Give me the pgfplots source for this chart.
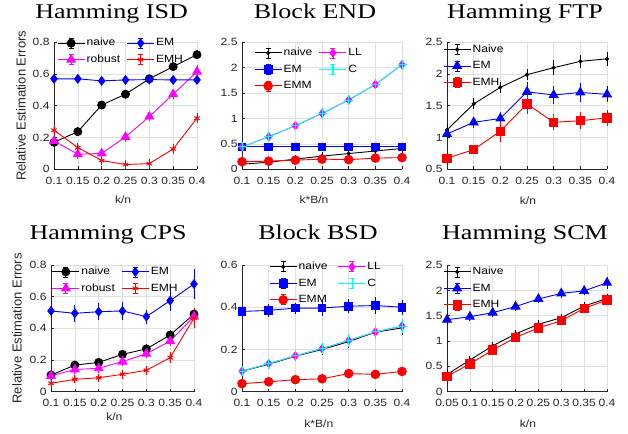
\documentclass[border=0pt]{standalone}
\usepackage{pgfplots}
\pgfplotsset{compat=1.18}
\usepackage{fontspec}
\newfontfamily\sansf{Liberation Sans}[FakeStretch=1.15]
\newfontfamily\sansplain{Liberation Sans}
\newfontfamily\serift{Liberation Serif}[FakeStretch=1.24]
\newcommand{\tk}{\sansf\fontsize{10.5}{12}\selectfont}
\newcommand{\ttl}{\serift\fontsize{21}{24}\selectfont}
\newcommand{\ylab}{\sansplain\fontsize{13}{15}\selectfont}
\definecolor{axgray}{rgb}{0.15,0.15,0.15}
\definecolor{grd}{rgb}{0.88,0.88,0.88}
\definecolor{mmag}{rgb}{1,0,1}
\definecolor{mcyan}{rgb}{0,1,1}
\definecolor{mblue}{rgb}{0,0,1}
\definecolor{mred}{rgb}{1,0,0}

\pgfplotsset{
  mplot/.style={
    scale only axis, anchor=south west, clip=false,
    axis x line*=bottom, axis y line*=left,
    every outer x axis line/.append style={-},
    every outer y axis line/.append style={-},
    axis line style={axgray, line width=0.6pt, -},
    tick align=inside, major tick length=3pt,
    tick style={axgray, line width=0.6pt},
    grid=major, major grid style={grd, line width=0.6pt},
    ticklabel style={font=\tk, text=axgray},
    xticklabel style={yshift=-4pt},
    yticklabel style={xshift=-1pt},
    every axis title/.style={font=\ttl, anchor=base},
    xlabel style={font=\tk, text=axgray, anchor=center},
    ylabel style={font=\ylab, text=axgray, anchor=center},
    legend style={draw=none, fill=none, font=\tk, text=black, inner sep=0pt,
      row sep=5pt, anchor=north west,
      nodes={inner xsep=1.5pt, inner ysep=1pt, text height=7.5pt, text depth=2pt}},
    legend cell align=left,
    legend image code/.code={
      \draw[mark=none, solid, line width=0.8pt] (13.5pt,-5pt) -- (13.5pt,5pt)
        (11pt,-5pt) -- (16pt,-5pt) (11pt,5pt) -- (16pt,5pt);
      \draw[mark repeat=2,mark phase=2] plot coordinates {(0pt,0pt) (13.5pt,0pt) (27pt,0pt)};
    },
    error bars/y dir=both, error bars/y explicit,
    error bars/error mark=-,
    error bars/error bar style={line width=0.8pt, solid},
    error bars/error mark options={mark size=3pt, line width=0.8pt, solid},
  },
  pk/.style={color=black, line width=0.9pt, mark=*, mark size=4pt},
  pbd/.style={color=mblue, line width=0.9pt, mark=diamond*, mark size=4.3pt},
  pmt/.style={color=mmag, line width=0.9pt, mark=triangle*, mark size=4.9pt},
  pra/.style={color=mred, line width=0.9pt, mark=asterisk, mark size=3.2pt},
  pkd/.style={color=black, line width=0.9pt, mark=*, mark size=1.6pt},
  pbs/.style={color=mblue, line width=0.9pt, mark=square*, mark size=3.8pt},
  prc/.style={color=mred, line width=0.9pt, mark=*, mark size=4.3pt},
  pmd/.style={color=mmag, line width=0.9pt, mark=diamond*, mark size=4pt},
  pcp/.style={color=mcyan, line width=0.9pt, mark=+, mark size=4.5pt},
  pbt/.style={color=mblue, line width=0.9pt, mark=triangle*, mark size=5pt},
  prs/.style={color=mred, line width=0.9pt, mark=square*, mark size=4.2pt},
}

\begin{document}
\begin{tikzpicture}
\path[use as bounding box] (0,0) rectangle (628pt,433pt);

% Hamming ISD
\begin{axis}[mplot, at={(54pt,263.7pt)}, width=143pt, height=127pt,
  xmin=0.1, xmax=0.4, ymin=0, ymax=0.8,
  xtick={0.1,0.15,0.2,0.25,0.3,0.35,0.4}, xticklabels={0.1,0.15,0.2,0.25,0.3,0.35,0.4},
  ytick={0,0.2,0.4,0.6,0.8}, yticklabels={0,0.2,0.4,0.6,0.8},
  title={Hamming ISD}, title style={at={(axis description cs:0.403,1.189)}},
  xlabel={k/n}, xlabel style={at={(axis description cs:0.483,-0.242)}},
  ylabel={Relative Estimation Errors}, ylabel style={at={(axis description cs:-0.231,0.5)}},
  legend columns=2,
  legend style={at={(0.021,1.040)}, /tikz/every even column/.append style={column sep=5pt}},
]
\addplot[pk, forget plot] coordinates {(0.1,0.17)+-(0,0.008) (0.15,0.237)+-(0,0.008) (0.2,0.405)+-(0,0.008) (0.25,0.473)+-(0,0.008) (0.3,0.57)+-(0,0.008) (0.35,0.647)+-(0,0.008) (0.4,0.722)+-(0,0.008)};
\addplot[pmt, forget plot] coordinates {(0.1,0.178)+-(0,0.01) (0.15,0.095)+-(0,0.01) (0.2,0.10)+-(0,0.01) (0.25,0.204)+-(0,0.01) (0.3,0.332)+-(0,0.01) (0.35,0.473)+-(0,0.01) (0.4,0.615)+-(0,0.02)};
\addplot[pbd, forget plot] coordinates {(0.1,0.57)+-(0,0.008) (0.15,0.57)+-(0,0.008) (0.2,0.557)+-(0,0.008) (0.25,0.563)+-(0,0.008) (0.3,0.565)+-(0,0.008) (0.35,0.563)+-(0,0.008) (0.4,0.563)+-(0,0.008)};
\addplot[pra, forget plot] coordinates {(0.1,0.246)+-(0,0.01) (0.15,0.137)+-(0,0.01) (0.2,0.055)+-(0,0.01) (0.25,0.03)+-(0,0.008) (0.3,0.036)+-(0,0.008) (0.35,0.128)+-(0,0.01) (0.4,0.322)+-(0,0.012)};
\addlegendimage{pk}\addlegendentry{naive}
\addlegendimage{pbd}\addlegendentry{EM}
\addlegendimage{pmt}\addlegendentry{robust}
\addlegendimage{pra}\addlegendentry{EMH}
\end{axis}

% Block END
\begin{axis}[mplot, at={(242pt,263.7pt)}, width=160pt, height=127pt,
  xmin=0.1, xmax=0.4, ymin=0, ymax=2.5,
  xtick={0.1,0.15,0.2,0.25,0.3,0.35,0.4}, xticklabels={0.1,0.15,0.2,0.25,0.3,0.35,0.4},
  ytick={0,0.5,1,1.5,2,2.5}, yticklabels={0,0.5,1,1.5,2,2.5},
  title={Block END}, title style={at={(axis description cs:0.456,1.189)}},
  xlabel={k*B/n}, xlabel style={at={(axis description cs:0.45,-0.242)}},
  legend columns=2,
  legend style={at={(0.075,0.963)}, /tikz/every even column/.append style={column sep=5pt}},
]
\addplot[pkd, forget plot] coordinates {(0.1,0.10)+-(0,0.02) (0.15,0.14)+-(0,0.02) (0.2,0.20)+-(0,0.02) (0.25,0.26)+-(0,0.03) (0.3,0.31)+-(0,0.03) (0.35,0.36)+-(0,0.03) (0.4,0.41)+-(0,0.03)};
\addplot[pbs, forget plot] coordinates {(0.1,0.44)+-(0,0.01) (0.15,0.44)+-(0,0.01) (0.2,0.44)+-(0,0.01) (0.25,0.44)+-(0,0.01) (0.3,0.44)+-(0,0.01) (0.35,0.44)+-(0,0.01) (0.4,0.44)+-(0,0.01)};
\addplot[prc, forget plot] coordinates {(0.1,0.15)+-(0,0.01) (0.15,0.16)+-(0,0.01) (0.2,0.18)+-(0,0.01) (0.25,0.20)+-(0,0.01) (0.3,0.19)+-(0,0.01) (0.35,0.22)+-(0,0.01) (0.4,0.23)+-(0,0.01)};
\addplot[pmd, forget plot] coordinates {(0.1,0.44)+-(0,0.03) (0.15,0.64)+-(0,0.03) (0.2,0.86)+-(0,0.03) (0.25,1.10)+-(0,0.04) (0.3,1.365)+-(0,0.04) (0.35,1.67)+-(0,0.04) (0.4,2.06)+-(0,0.04)};
\addplot[pcp, forget plot] coordinates {(0.1,0.44)+-(0,0.03) (0.15,0.64)+-(0,0.03) (0.2,0.86)+-(0,0.03) (0.25,1.10)+-(0,0.04) (0.3,1.365)+-(0,0.04) (0.35,1.67)+-(0,0.04) (0.4,2.06)+-(0,0.04)};
\addlegendimage{pkd}\addlegendentry{naive}
\addlegendimage{pmd}\addlegendentry{LL}
\addlegendimage{pbs}\addlegendentry{EM}
\addlegendimage{pcp}\addlegendentry{C}
\addlegendimage{prc}\addlegendentry{EMM}
\end{axis}

% Hamming FTP
\begin{axis}[mplot, at={(447pt,263.7pt)}, width=160pt, height=127pt,
  xmin=0.1, xmax=0.4, ymin=0.5, ymax=2.5,
  xtick={0.1,0.15,0.2,0.25,0.3,0.35,0.4}, xticklabels={0.1,0.15,0.2,0.25,0.3,0.35,0.4},
  ytick={0.5,1,1.5,2,2.5}, yticklabels={0.5,1,1.5,2,2.5},
  title={Hamming FTP}, title style={at={(axis description cs:0.4875,1.189)}},
  xlabel={k/n}, xlabel style={at={(axis description cs:0.506,-0.25)}},
  legend columns=1,
  legend style={at={(-0.025,0.990)}},
]
\addplot[pkd, forget plot] coordinates {(0.1,1.12)+-(0,0.04) (0.15,1.53)+-(0,0.04) (0.2,1.79)+-(0,0.04) (0.25,1.99)+-(0,0.04) (0.3,2.10)+-(0,0.07) (0.35,2.20)+-(0,0.06) (0.4,2.24)+-(0,0.06)};
\addplot[pbt, forget plot] coordinates {(0.1,1.056)+-(0,0.03) (0.15,1.24)+-(0,0.04) (0.2,1.30)+-(0,0.05) (0.25,1.72)+-(0,0.10) (0.3,1.67)+-(0,0.10) (0.35,1.71)+-(0,0.10) (0.4,1.68)+-(0,0.08)};
\addplot[prs, forget plot] coordinates {(0.1,0.675)+-(0,0.02) (0.15,0.81)+-(0,0.02) (0.2,1.10)+-(0,0.12) (0.25,1.53)+-(0,0.11) (0.3,1.24)+-(0,0.08) (0.35,1.265)+-(0,0.09) (0.4,1.31)+-(0,0.08)};
\addlegendimage{pkd}\addlegendentry{Naive}
\addlegendimage{pbt}\addlegendentry{EM}
\addlegendimage{prs}\addlegendentry{EMH}
\end{axis}

% Hamming CPS
\begin{axis}[mplot, at={(51pt,41.3pt)}, width=143pt, height=126.7pt,
  xmin=0.1, xmax=0.4, ymin=0, ymax=0.8,
  xtick={0.1,0.15,0.2,0.25,0.3,0.35,0.4}, xticklabels={0.1,0.15,0.2,0.25,0.3,0.35,0.4},
  ytick={0,0.2,0.4,0.6,0.8}, yticklabels={0,0.2,0.4,0.6,0.8},
  title={Hamming CPS}, title style={at={(axis description cs:0.399,1.2)}},
  xlabel={k/n}, xlabel style={at={(axis description cs:0.443,-0.197)}},
  ylabel={Relative Estimation Errors}, ylabel style={at={(axis description cs:-0.238,0.5)}},
  legend columns=2,
  legend style={at={(0.005,0.9925)}, /tikz/every even column/.append style={column sep=5pt}},
]
\addplot[pk, forget plot] coordinates {(0.1,0.105)+-(0,0.008) (0.15,0.168)+-(0,0.008) (0.2,0.185)+-(0,0.008) (0.25,0.236)+-(0,0.01) (0.3,0.27)+-(0,0.01) (0.35,0.358)+-(0,0.012) (0.4,0.49)+-(0,0.02)};
\addplot[pmt, forget plot] coordinates {(0.1,0.10)+-(0,0.01) (0.15,0.14)+-(0,0.01) (0.2,0.148)+-(0,0.01) (0.25,0.19)+-(0,0.01) (0.3,0.24)+-(0,0.01) (0.35,0.32)+-(0,0.015) (0.4,0.475)+-(0,0.03)};
\addplot[pbd, forget plot] coordinates {(0.1,0.51)+-(0,0.065) (0.15,0.495)+-(0,0.035) (0.2,0.505)+-(0,0.035) (0.25,0.51)+-(0,0.04) (0.3,0.474)+-(0,0.025) (0.35,0.575)+-(0,0.045) (0.4,0.68)+-(0,0.075)};
\addplot[pra, forget plot] coordinates {(0.1,0.053)+-(0,0.006) (0.15,0.078)+-(0,0.006) (0.2,0.088)+-(0,0.006) (0.25,0.11)+-(0,0.008) (0.3,0.135)+-(0,0.01) (0.35,0.215)+-(0,0.015) (0.4,0.465)+-(0,0.045)};
\addlegendimage{pk}\addlegendentry{naive}
\addlegendimage{pbd}\addlegendentry{EM}
\addlegendimage{pmt}\addlegendentry{robust}
\addlegendimage{pra}\addlegendentry{EMH}
\end{axis}

% Block BSD
\begin{axis}[mplot, at={(242pt,41.3pt)}, width=160pt, height=126.7pt,
  xmin=0.1, xmax=0.4, ymin=0, ymax=0.6,
  xtick={0.1,0.15,0.2,0.25,0.3,0.35,0.4}, xticklabels={0.1,0.15,0.2,0.25,0.3,0.35,0.4},
  ytick={0,0.2,0.4,0.6}, yticklabels={0,0.2,0.4,0.6},
  title={Block BSD}, title style={at={(axis description cs:0.475,1.2)}},
  xlabel={k*B/n}, xlabel style={at={(axis description cs:0.48,-0.255)}},
  legend columns=2,
  legend style={at={(0.169,1.032)}, /tikz/every even column/.append style={column sep=9pt}},
]
\addplot[pkd, forget plot] coordinates {(0.1,0.097)+-(0,0.01) (0.15,0.13)+-(0,0.01) (0.2,0.168)+-(0,0.01) (0.25,0.20)+-(0,0.012) (0.3,0.237)+-(0,0.015) (0.35,0.282)+-(0,0.02) (0.4,0.302)+-(0,0.02)};
\addplot[pbs, forget plot] coordinates {(0.1,0.38)+-(0,0.012) (0.15,0.385)+-(0,0.015) (0.2,0.396)+-(0,0.012) (0.25,0.396)+-(0,0.025) (0.3,0.405)+-(0,0.018) (0.35,0.408)+-(0,0.025) (0.4,0.40)+-(0,0.022)};
\addplot[prc, forget plot] coordinates {(0.1,0.038)+-(0,0.003) (0.15,0.047)+-(0,0.003) (0.2,0.057)+-(0,0.003) (0.25,0.061)+-(0,0.003) (0.3,0.086)+-(0,0.003) (0.35,0.082)+-(0,0.003) (0.4,0.096)+-(0,0.003)};
\addplot[pmd, forget plot] coordinates {(0.1,0.097)+-(0,0.01) (0.15,0.133)+-(0,0.01) (0.2,0.17)+-(0,0.012) (0.25,0.204)+-(0,0.012) (0.3,0.243)+-(0,0.015) (0.35,0.283)+-(0,0.02) (0.4,0.311)+-(0,0.02)};
\addplot[pcp, forget plot] coordinates {(0.1,0.097)+-(0,0.01) (0.15,0.133)+-(0,0.01) (0.2,0.17)+-(0,0.012) (0.25,0.204)+-(0,0.012) (0.3,0.243)+-(0,0.015) (0.35,0.283)+-(0,0.02) (0.4,0.311)+-(0,0.02)};
\addlegendimage{pkd}\addlegendentry{naive}
\addlegendimage{pmd}\addlegendentry{LL}
\addlegendimage{pbs}\addlegendentry{EM}
\addlegendimage{pcp}\addlegendentry{C}
\addlegendimage{prc}\addlegendentry{EMM}
\end{axis}

% Hamming SCM
\begin{axis}[mplot, at={(447pt,41.3pt)}, width=160pt, height=126.7pt,
  xmin=0.05, xmax=0.4, ymin=0, ymax=2.5,
  xtick={0.05,0.1,0.15,0.2,0.25,0.3,0.35,0.4}, xticklabels={0.05,0.1,0.15,0.2,0.25,0.3,0.35,0.4},
  ytick={0,0.5,1,1.5,2,2.5}, yticklabels={0,0.5,1,1.5,2,2.5},
  title={Hamming SCM}, title style={at={(axis description cs:0.4875,1.2)}},
  xlabel={k/n}, xlabel style={at={(axis description cs:0.506,-0.25)}},
  legend columns=1,
  legend style={at={(-0.025,0.9925)}},
]
\addplot[pbt, forget plot] coordinates {(0.05,1.42)+-(0,0.02) (0.1,1.48)+-(0,0.02) (0.15,1.56)+-(0,0.02) (0.2,1.68)+-(0,0.02) (0.25,1.83)+-(0,0.02) (0.3,1.94)+-(0,0.03) (0.35,1.99)+-(0,0.03) (0.4,2.15)+-(0,0.06)};
\addplot[pkd, forget plot] coordinates {(0.05,0.34)+-(0,0.02) (0.1,0.625)+-(0,0.02) (0.15,0.905)+-(0,0.02) (0.2,1.14)+-(0,0.02) (0.25,1.33)+-(0,0.02) (0.3,1.46)+-(0,0.02) (0.35,1.69)+-(0,0.02) (0.4,1.84)+-(0,0.02)};
\addplot[prs, forget plot] coordinates {(0.05,0.30)+-(0,0.02) (0.1,0.55)+-(0,0.02) (0.15,0.82)+-(0,0.02) (0.2,1.07)+-(0,0.02) (0.25,1.26)+-(0,0.02) (0.3,1.40)+-(0,0.02) (0.35,1.645)+-(0,0.02) (0.4,1.81)+-(0,0.02)};
\addlegendimage{pkd}\addlegendentry{Naive}
\addlegendimage{pbt}\addlegendentry{EM}
\addlegendimage{prs}\addlegendentry{EMH}
\end{axis}
\end{tikzpicture}
\end{document}
